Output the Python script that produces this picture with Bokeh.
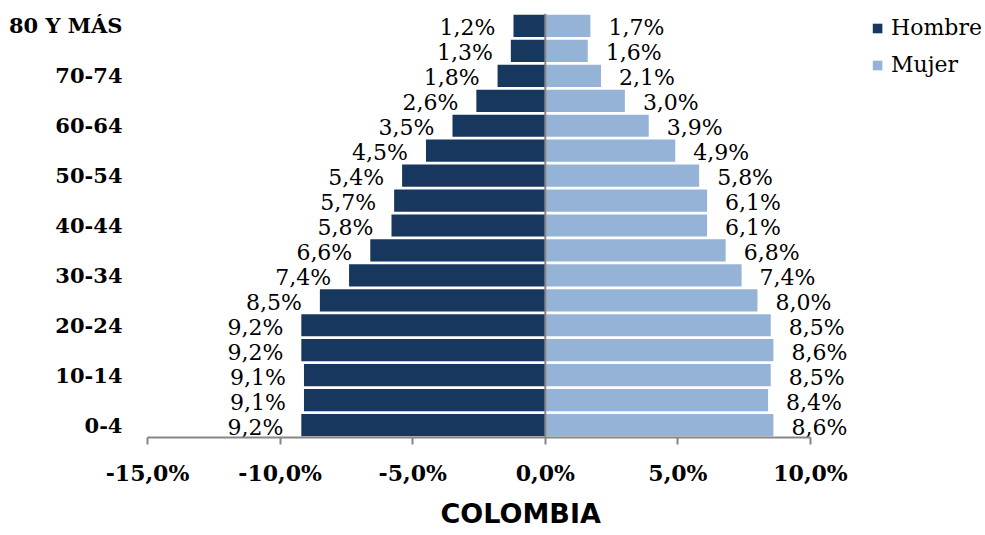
from bokeh.plotting import figure
from bokeh.models import (Range1d, FixedTicker, Span, Legend, LegendItem, Title,
                          ColumnDataSource)
from bokeh.core.properties import value
from bokeh.embed import file_html
from bokeh.resources import INLINE

# ---- data ----
ages = ["0-4", "5-9", "10-14", "15-19", "20-24", "25-29", "30-34", "35-39",
        "40-44", "45-49", "50-54", "55-59", "60-64", "65-69", "70-74", "75-79",
        "80 Y MÁS"]
hombre = [9.2, 9.1, 9.1, 9.2, 9.2, 8.5, 7.4, 6.6, 5.8, 5.7, 5.4, 4.5, 3.5, 2.6, 1.8, 1.3, 1.2]
mujer = [8.6, 8.4, 8.5, 8.6, 8.5, 8.0, 7.4, 6.8, 6.1, 6.1, 5.8, 4.9, 3.9, 3.0, 2.1, 1.6, 1.7]
x_ticks = [-15, -10, -5, 0, 5, 10]
x_tick_labels = ["-15,0%", "-10,0%", "-5,0%", "0,0%", "5,0%", "10,0%"]
title_text = "COLOMBIA"

DARK = "#17375E"
LIGHT = "#95B3D7"
GRAY = "#868686"
SERIF = "DejaVu Serif"


def fmt(v):
    return f"{v:.1f}".replace(".", ",") + "%"


idx = list(range(len(ages)))
src_h = ColumnDataSource(dict(y=idx, left=[-v for v in hombre], right=[0] * len(idx),
                              lab=[fmt(v) for v in hombre]))
src_m = ColumnDataSource(dict(y=idx, left=[0] * len(idx), right=mujer,
                              lab=[fmt(v) for v in mujer]))

p = figure(width=984, height=535, output_backend="svg", toolbar_location=None,
           x_range=Range1d(-15, 16.56), y_range=Range1d(-0.5, len(ages) - 0.5),
           min_border_left=147, min_border_right=0, min_border_top=13,
           min_border_bottom=95)
p.outline_line_color = None
p.grid.visible = False
p.background_fill_color = "white"
p.border_fill_color = "white"

rh = p.hbar(y="y", left="left", right="right", height=0.89, source=src_h,
            fill_color=DARK, line_color=None)
rm = p.hbar(y="y", left="left", right="right", height=0.89, source=src_m,
            fill_color=LIGHT, line_color=None)

p.text(x="left", y="y", text="lab", source=src_h, x_offset=-18, y_offset=2,
       text_align="right", text_baseline="middle", text_font=value(SERIF),
       text_font_size="22px", text_color="black")
p.text(x="right", y="y", text="lab", source=src_m, x_offset=18, y_offset=2,
       text_align="left", text_baseline="middle", text_font=value(SERIF),
       text_font_size="22px", text_color="black")

p.add_layout(Span(location=0, dimension="height", line_color=GRAY, line_width=2,
                  level="overlay"))

# x axis
xa = p.xaxis[0]
xa.ticker = FixedTicker(ticks=x_ticks)
xa.major_label_overrides = {t: l for t, l in zip(x_ticks, x_tick_labels)}
xa.bounds = (x_ticks[0], x_ticks[-1])
xa.axis_line_color = GRAY
xa.axis_line_width = 2
xa.major_tick_line_color = GRAY
xa.major_tick_line_width = 2
xa.major_tick_out = 7
xa.major_tick_in = 0
xa.minor_tick_line_color = None
xa.major_label_standoff = 15
xa.major_label_text_font = SERIF
xa.major_label_text_font_style = "bold"
xa.major_label_text_font_size = "22px"
xa.major_label_text_color = "black"

# y axis
ya = p.yaxis[0]
ya.ticker = FixedTicker(ticks=idx[::2])
ya.major_label_overrides = {i: ages[i] for i in idx[::2]}
ya.axis_line_color = None
ya.major_tick_line_color = None
ya.minor_tick_line_color = None
ya.major_tick_out = 0
ya.major_tick_in = 0
ya.major_label_standoff = 25
ya.major_label_text_font = SERIF
ya.major_label_text_font_style = "bold"
ya.major_label_text_font_size = "21px"
ya.major_label_text_color = "black"

legend = Legend(items=[LegendItem(label="Hombre", renderers=[rh]),
                       LegendItem(label="Mujer", renderers=[rm])],
                location="top_right", margin=2, padding=0, spacing=12,
                glyph_width=12, glyph_height=12, label_standoff=8,
                label_height=25, label_text_font=SERIF,
                label_text_font_size="22px", label_text_color="black",
                border_line_color=None, background_fill_alpha=0)
p.add_layout(legend)

p.add_layout(Title(text=title_text, align="left", offset=293, text_font="DejaVu Sans",
                   text_font_style="bold", text_font_size="27px", text_color="black",
                   standoff=14), "below")

open("out.html", "w").write(file_html(p, INLINE))
